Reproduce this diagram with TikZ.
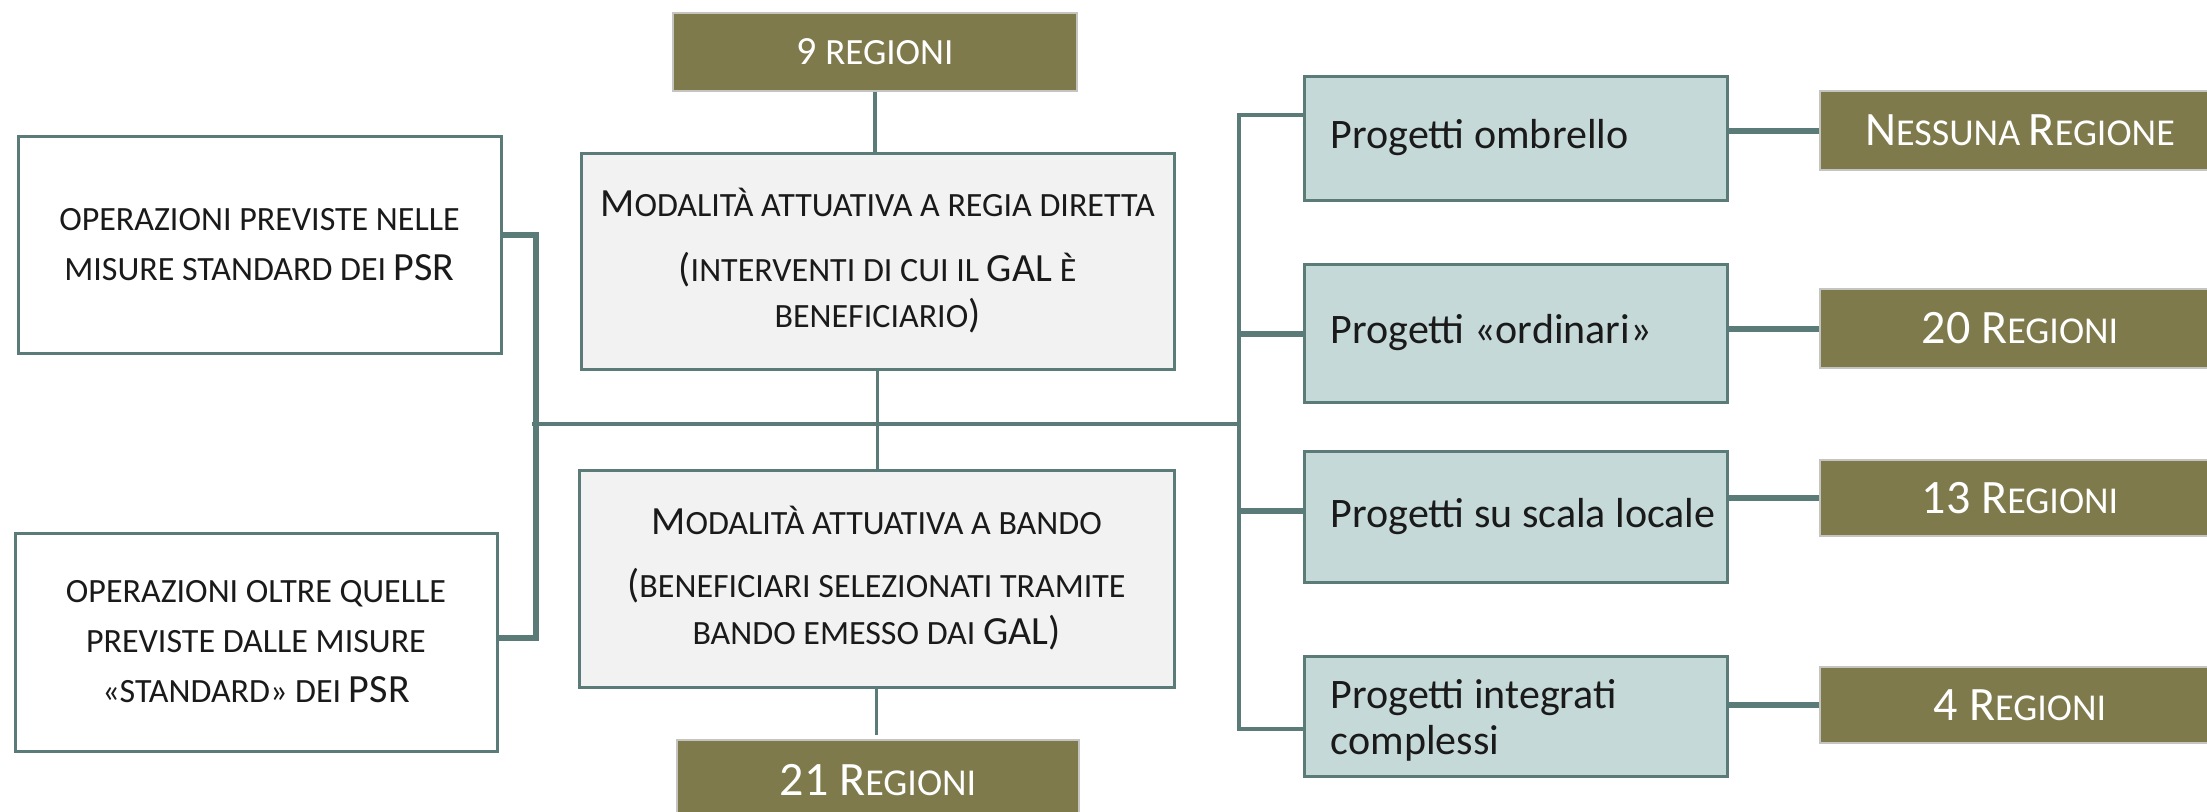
\documentclass[tikz,border=0pt]{standalone}
\usepackage{fontspec}
\setmainfont{Carlito}
\definecolor{olive}{HTML}{7F7A4B}
\definecolor{lnc}{HTML}{5B7B78}
\definecolor{tealf}{HTML}{C5D9D8}
\definecolor{grayf}{HTML}{F2F2F2}
\definecolor{olb}{HTML}{C4C4C0}
\definecolor{txt}{HTML}{1A1A1A}
\newcommand{\Bg}[1]{{\fontsize{20}{23}\selectfont #1}}
\newcommand{\Sm}[1]{{\fontsize{17}{23}\selectfont #1}}
\newcommand{\OB}[1]{{\fontsize{24}{28}\selectfont #1}}
\newcommand{\OS}[1]{{\fontsize{19}{28}\selectfont #1}}
\begin{document}
\begin{tikzpicture}[x=0.5pt,y=-0.5pt,
  obox/.style={draw=olb,line width=1pt,fill=olive,text=white,inner sep=0pt,font=\fontsize{19}{28}\selectfont},
  wbox/.style={draw=lnc,line width=1.5pt,fill=white,text=txt,align=center,inner sep=0pt,font=\fontsize{17}{25}\selectfont},
  gbox/.style={draw=lnc,line width=1.5pt,fill=grayf,text=txt,align=center,inner sep=0pt,font=\fontsize{17}{23}\selectfont},
  pbox/.style={draw=lnc,line width=1.5pt,fill=tealf,minimum width=211.5pt,inner sep=0pt},
  ptext/.style={text=txt,font=\fontsize{21}{25}\selectfont,align=left,anchor=west,inner sep=0pt},
  thin/.style={draw=lnc,line width=1.7pt},
  thk/.style={draw=lnc,line width=3pt}]
\useasboundingbox (0,0) rectangle (2207,811);
\clip (0,0) rectangle (2207,811);
\fill[white] (0,0) rectangle (2207,811);

% centre column
\node[obox,minimum width=202pt,minimum height=39pt,font=\fontsize{18.5}{22}\selectfont] (r9) at (875,52)
  {\Bg{9} REGIONI};
\node[gbox,minimum width=296.5pt,minimum height=108pt] (rd) at (877.5,261)
  {\Bg{M}ODALITÀ ATTUATIVA A REGIA DIRETTA\\[9.5pt]
   \Bg{(}INTERVENTI DI CUI IL \Bg{GAL} È\\
   BENEFICIARIO\Bg{)}};
\node[gbox,minimum width=297.5pt,minimum height=108.5pt,font=\fontsize{17}{23.5}\selectfont] (bd) at (876.5,578.5)
  {\Bg{M}ODALITÀ ATTUATIVA A BANDO\\[8pt]
   \Bg{(}BENEFICIARI SELEZIONATI TRAMITE\\
   BANDO EMESSO DAI \Bg{GAL)}};
\node[obox,minimum width=201pt,minimum height=40pt] (r21) at (878,780)
  {\OB{21 R}EGIONI};

% left boxes
\node[wbox,minimum width=241.5pt,minimum height=108.5pt] (lt) at (259.5,244.5)
  {OPERAZIONI PREVISTE NELLE\\
   MISURE STANDARD DEI \Bg{PSR}};
\node[wbox,minimum width=241pt,minimum height=109pt] (lb) at (256,642)
  {OPERAZIONI OLTRE QUELLE\\
   PREVISTE DALLE MISURE\\
   «STANDARD» DEI \Bg{PSR}};

% right project boxes
\node[pbox,minimum height=62pt] (p1) at (1515.5,138) {};
\node[pbox,minimum height=69pt] (p2) at (1515.5,333) {};
\node[pbox,minimum height=65.5pt] (p3) at (1515.5,516.5) {};
\node[pbox,minimum height=60pt] (p4) at (1515.5,716) {};
\node[ptext] (p1t) at ([xshift=14pt]p1.west) {Progetti ombrello};
\node[ptext] (p2t) at ([xshift=14pt]p2.west) {Progetti «ordinari»};
\node[ptext] (p3t) at ([xshift=14pt]p3.west) {Progetti su scala locale};
\node[ptext,font=\fontsize{21}{23}\selectfont] (p4t) at ([xshift=14pt,yshift=-2pt]p4.west) {Progetti integrati\\complessi};

% right olive boxes
\node[obox,minimum width=200pt,minimum height=39.5pt] (o1) at (2020,130.5) {\OB{N}ESSUNA \OB{R}EGIONE};
\node[obox,minimum width=200pt,minimum height=39.5pt] (o2) at (2020,328.5) {\OB{20 R}EGIONI};
\node[obox,minimum width=200pt,minimum height=38pt] (o3) at (2020,498) {\OB{13 R}EGIONI};
\node[obox,minimum width=200pt,minimum height=38pt] (o4) at (2020,705) {\OB{4 R}EGIONI};

% hub coordinates
\coordinate (hl) at (532,424);
\coordinate (hr) at (1239,424);
\coordinate (lvt) at (536,235);
\coordinate (lvb) at (536,638);
\coordinate (rvt) at (1239,115);
\coordinate (rv2) at (1239,334);
\coordinate (rv3) at (1239,511);
\coordinate (rvb) at (1239,729);

% connectors
\draw[thin] (r9.south) -- (r9.south |- rd.north);
\draw[thin] (rd.south) -- (rd.south |- bd.north);
\draw[thin] (bd.south) -- ([yshift=-23pt]bd.south);
\draw[thin] (hl) -- (hr);
\draw[thk] (lvt -| lt.east) -- (lvt) -- (lvb) -- (lvb -| lb.east);
\draw[thin] (rvt -| p1.west) -- (rvt) -- (rvb) -- (rvb -| p4.west);
\draw[thk] (rv2) -- (rv2 -| p2.west);
\draw[thk] (rv3) -- (rv3 -| p3.west);
\draw[thk] (p1.east |- o1) -- (o1.west);
\draw[thk] (p2.east |- o2) -- (o2.west);
\draw[thk] (p3.east |- o3) -- (o3.west);
\draw[thk] (p4.east |- o4) -- (o4.west);
\end{tikzpicture}
\end{document}
